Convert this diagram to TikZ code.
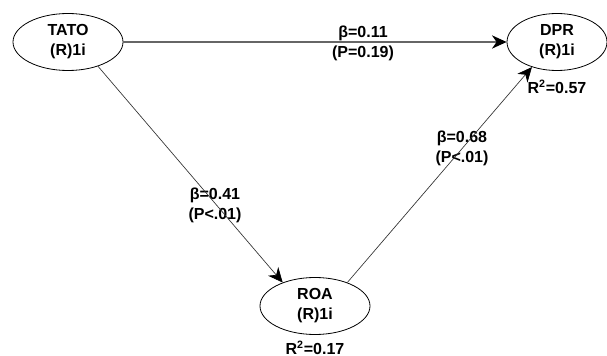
\documentclass[tikz,border=0pt]{standalone}
\usepackage{fontspec}
\setmainfont{Liberation Sans}
\usetikzlibrary{shapes.geometric,arrows.meta}
\begin{document}
\begin{tikzpicture}[x=0.75pt,y=-0.75pt,
    txt/.style={align=center,inner sep=0pt,font=\bfseries\fontsize{12}{15}\selectfont},
    latent/.style={txt,draw,ellipse,line width=0.6pt,minimum width=82.5pt,minimum height=42.75pt},
    link/.style={-{Stealth[length=11pt,width=10pt,inset=3.5pt,black]},line width=0.5pt,black!80}]
  \useasboundingbox (0,0) rectangle (607,356);
  \draw
    (68,42) node[latent] (tato){TATO\\(R)1i}
    (557,42) node[latent,minimum width=75pt] (dpr){DPR\\(R)1i}
    (315,306) node[latent] (roa){ROA\\(R)1i}
    (557,87) node[txt] (r2dpr){R\textsuperscript{2}=0.57}
    (315,348) node[txt] (r2roa){R\textsuperscript{2}=0.17}
    (363,43) node[txt] (c1){β=0.11\\(P=0.19)}
    (215,205) node[txt] (c2){β=0.41\\(P<.01)}
    (462,148) node[txt] (c3){β=0.68\\(P<.01)};
  \begin{scope}[link]
    \draw[line width=0.9pt,black!60] (tato.east) -- (dpr.west);
    \draw (tato.-39) -- (roa.144);
    \draw (roa.36) -- (dpr.225);
  \end{scope}
\end{tikzpicture}
\end{document}
